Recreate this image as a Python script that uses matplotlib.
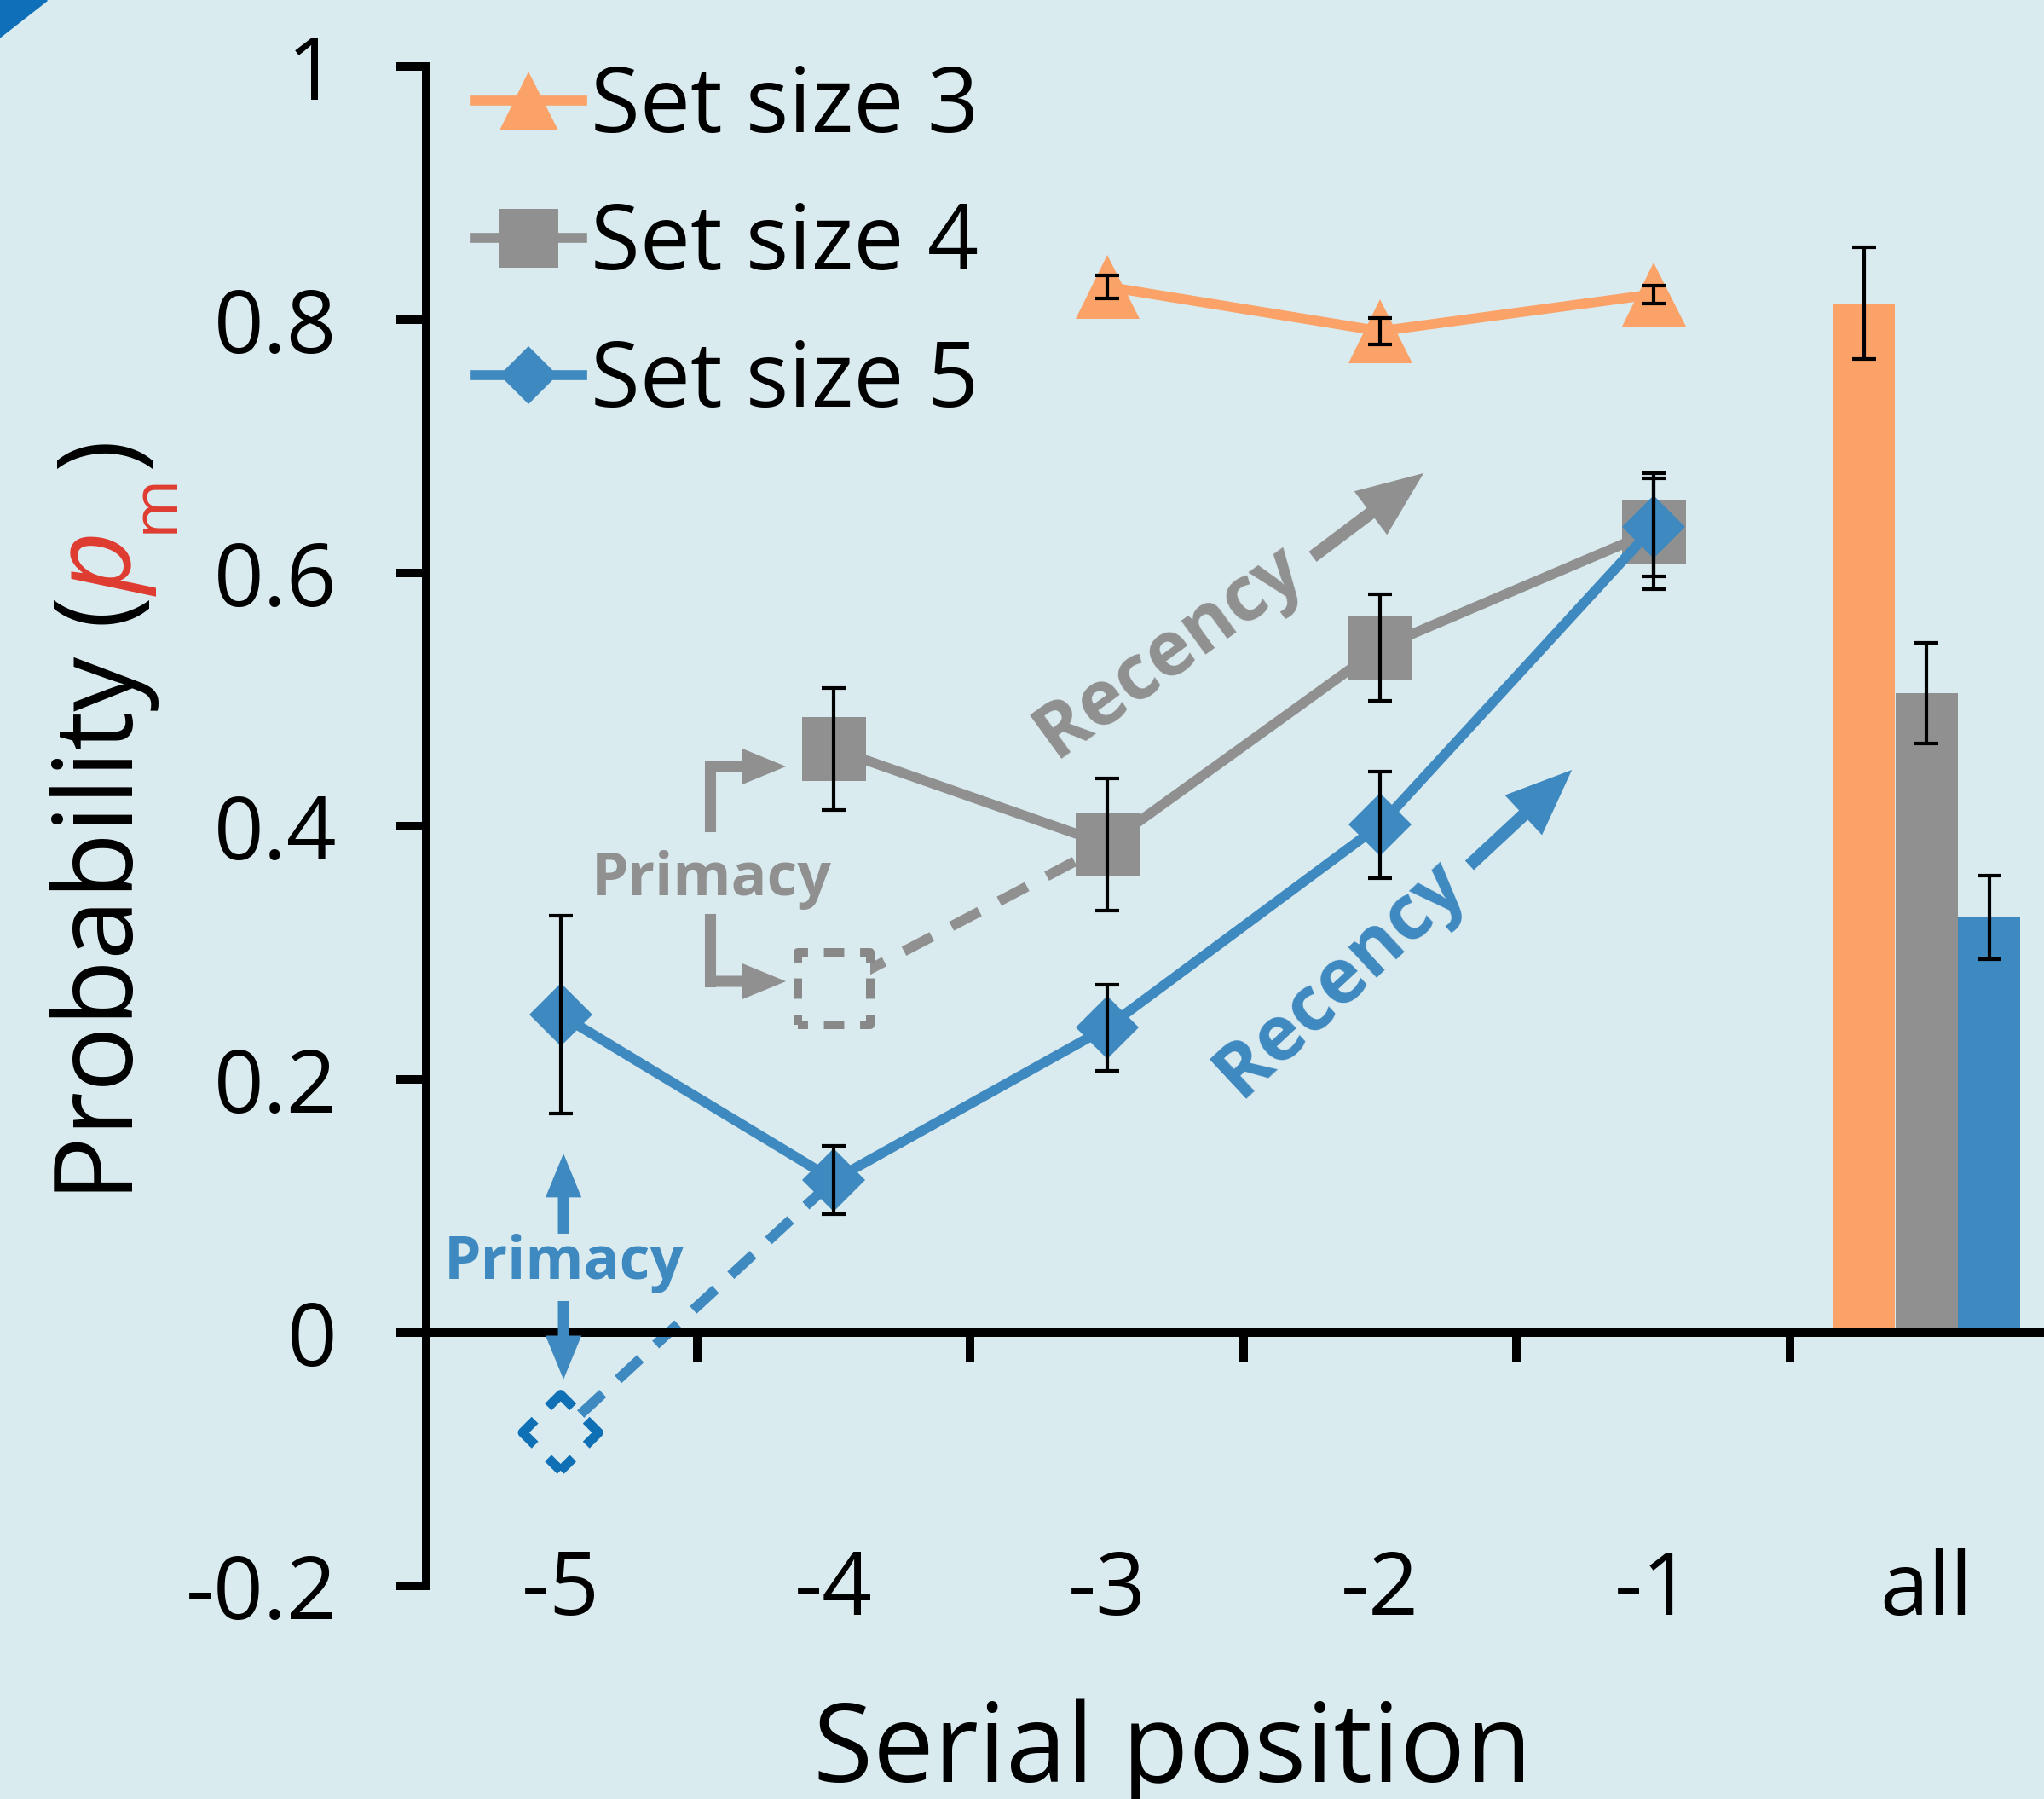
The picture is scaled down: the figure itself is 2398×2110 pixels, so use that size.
import matplotlib.pyplot as plt
import numpy as np
from matplotlib.patches import Polygon

plt.rcParams['font.family'] = 'Open Sans'
plt.rcParams['axes.unicode_minus'] = False
plt.rcParams['lines.scale_dashes'] = False

# categories
positions = ["-5", "-4", "-3", "-2", "-1", "all"]
x_pos = np.arange(len(positions))

# set size 3 (serial positions -3..-1)
set3_x = [2, 3, 4]
set3_y = [0.826, 0.791, 0.820]
set3_err = [0.009, 0.0105, 0.007]

# set size 4 (serial positions -4..-1)
set4_x = [1, 2, 3, 4]
set4_y = [0.461, 0.3855, 0.541, 0.633]
set4_err = [0.048, 0.052, 0.042, 0.046]

# set size 5 (serial positions -5..-1)
set5_x = [0, 1, 2, 3, 4]
set5_y = [0.251, 0.1205, 0.241, 0.401, 0.636]
set5_err = [0.078, 0.027, 0.034, 0.042, 0.039]

# hypothetical first-position values (no primacy)
primacy4_x, primacy4_y = 1, 0.272
primacy5_x, primacy5_y = 0, -0.079

# pooled over positions
all_labels = ["Set size 3", "Set size 4", "Set size 5"]
all_y = [0.813, 0.505, 0.328]
all_err = [0.044, 0.040, 0.033]

bg = '#DAEBEF'
orange = '#FAA267'
gray = '#909090'
blue = '#3E89C0'
dark_blue = '#1070B5'
red = '#E03B30'

W, H = 2398, 2110
fig = plt.figure(figsize=(W / 200, H / 200), dpi=200, facecolor=bg)
ax = fig.add_axes([0, 0, 1, 1], facecolor=bg)
ax.set_xlim(-2.052, 5.430)
ax.set_ylim(-0.3684, 1.0525)

for s in ['top', 'right']:
    ax.spines[s].set_visible(False)
ax.spines['left'].set_position(('data', -0.492))
ax.spines['left'].set_bounds(-0.2, 1.0)
ax.spines['bottom'].set_position(('data', 0))
ax.spines['bottom'].set_bounds(-0.492, 5.43)
for s in ['left', 'bottom']:
    ax.spines[s].set_linewidth(3.6)

ax.set_yticks([-0.2, 0, 0.2, 0.4, 0.6, 0.8, 1.0],
              ['-0.2', '0', '0.2', '0.4', '0.6', '0.8', '1'])
ax.tick_params(axis='y', length=12.6, width=3.6, pad=25, labelsize=37)
ax.set_xticks(x_pos[:-1] + 0.5, [])
ax.set_xticks(x_pos, positions, minor=True)
ax.tick_params(axis='x', which='major', length=12.3, width=3.6)
ax.tick_params(axis='x', which='minor', length=0, pad=91, labelsize=37)

# bars for "all"
bar_colors = [orange, gray, blue]
ax.bar(x_pos[-1] + np.array([-0.229, 0, 0.229]), all_y, width=0.228,
       color=bar_colors, zorder=2)
ax.errorbar(x_pos[-1] + np.array([-0.229, 0, 0.229]), all_y, yerr=all_err,
            fmt='none', ecolor='k', elinewidth=1.5, capsize=4.9, capthick=1.5, zorder=6)

# dashed connections from hypothetical primacy-free points
ax.plot([primacy4_x, set4_x[1]], [primacy4_y, set4_y[1]], color=gray, lw=4.3,
        linestyle=(11.9, (13.3, 9.4)), dash_capstyle='butt', zorder=2.5)
ax.plot([primacy5_x, set5_x[1]], [primacy5_y, set5_y[1]], color=blue, lw=4.3,
        linestyle=(10.1, (12.8, 8.8)), dash_capstyle='butt', zorder=2.5)
ax.scatter([primacy4_x], [primacy4_y], s=30.6 ** 2, marker='s', facecolors=bg,
           edgecolors='#888888', linewidths=3.6, linestyles=[(4.3, (8.6, 6.7))], zorder=2.7)
ax.scatter([primacy5_x], [primacy5_y], s=22.7 ** 2, marker='D', facecolors=bg,
           edgecolors=dark_blue, linewidths=4.0, linestyles=[(7.4, (14.8, 7.9))], zorder=2.7)

# series lines
l3, = ax.plot(set3_x, set3_y, color=orange, lw=4.2, marker='^', ms=27, mew=0, zorder=3)
l4, = ax.plot(set4_x, set4_y, color=gray, lw=4.2, marker='s', ms=27, mew=0, zorder=3.1)
l5, = ax.plot(set5_x, set5_y, color=blue, lw=4.2, marker='D', ms=18.6, mew=0, zorder=3.2)
for xs, ys, es in [(set3_x, set3_y, set3_err), (set4_x, set4_y, set4_err),
                   (set5_x, set5_y, set5_err)]:
    ax.errorbar(xs, ys, yerr=es, fmt='none', ecolor='k', elinewidth=1.5,
                capsize=4.9, capthick=1.5, zorder=6)

# annotations
small_arrow = dict(arrowstyle='simple,head_length=18.5,head_width=15.2,tail_width=4.7',
                   mutation_scale=1, shrinkA=0, shrinkB=0, lw=0)
big_arrow = dict(arrowstyle='simple,head_length=28,head_width=23,tail_width=5.4',
                 mutation_scale=1, shrinkA=0, shrinkB=0, lw=0)

ax.text(0.553, 0.3455, 'Primacy', color=gray, fontsize=25, fontweight='bold',
        ha='center', va='baseline')
ax.plot([0.547, 0.547], [0.400, 0.4471], color=gray, lw=4.7, solid_capstyle='projecting')
ax.annotate('', xy=(0.825, 0.4471), xytext=(0.547, 0.4471),
            arrowprops=dict(small_arrow, color=gray))
ax.plot([0.547, 0.547], [0.3266, 0.2774], color=gray, lw=4.7, solid_capstyle='projecting')
ax.annotate('', xy=(0.825, 0.2774), xytext=(0.547, 0.2774),
            arrowprops=dict(small_arrow, color=gray))

ax.text(0.0137, 0.0424, 'Primacy', color=blue, fontsize=25, fontweight='bold',
        ha='center', va='baseline')
ax.annotate('', xy=(0.0106, 0.1414), xytext=(0.0106, 0.0781),
            arrowprops=dict(small_arrow, color=blue))
ax.annotate('', xy=(0.0106, -0.0370), xytext=(0.0106, 0.0249),
            arrowprops=dict(small_arrow, color=blue))

ax.text(2.229, 0.5374, 'Recency', color=gray, fontsize=32, fontweight='bold',
        rotation=36, rotation_mode='anchor', ha='center', va='center')
ax.annotate('', xy=(3.159, 0.6788), xytext=(2.753, 0.6128),
            arrowprops=dict(big_arrow, color=gray))
ax.text(2.856, 0.2795, 'Recency', color=blue, fontsize=32, fontweight='bold',
        rotation=43, rotation_mode='anchor', ha='center', va='center')
ax.annotate('', xy=(3.702, 0.4444), xytext=(3.327, 0.369),
            arrowprops=dict(big_arrow, color=blue))

ax.legend([l3, l4, l5], all_labels, loc='upper left',
          bbox_to_anchor=(557 / W, 1 - 74 / H), bbox_transform=fig.transFigure,
          frameon=False, fontsize=38, handlelength=1.19, handletextpad=0.1,
          labelspacing=0.52, borderpad=0, borderaxespad=0, markerscale=0.92)

ax.set_xlabel('Serial position', fontsize=46, va='baseline')
ax.xaxis.set_label_coords(1376 / W, 20 / H)

# y label with coloured p_m
fig.canvas.draw()
renderer = fig.canvas.get_renderer()
ypix = H - 1409
pieces = [("Probability (", 'k', 46, 'normal', 0),
          ("p", red, 46, 'italic', 0),
          ("m", red, 27, 'normal', 47),
          (")", 'k', 46, 'normal', 0)]
for txt, col, size, style, shift in pieces:
    if txt == ")":
        ypix += 6
    t = fig.text((156 + shift) / W, ypix / H, txt, rotation=90,
                 rotation_mode='anchor', ha='left', va='baseline',
                 fontsize=size, color=col, style=style)
    ypix += t.get_window_extent(renderer).height

fig.add_artist(Polygon([[0, 1], [55 / W, 1], [0, 1 - 43 / H]], closed=True,
                       transform=fig.transFigure, color='#0F70B9'))

fig.savefig('out.png', dpi=200, facecolor=bg)
